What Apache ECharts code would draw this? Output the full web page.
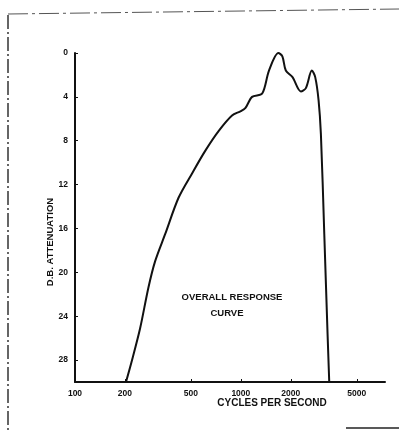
<!DOCTYPE html>
<html>
<head>
<meta charset="utf-8">
<script src="https://cdn.jsdelivr.net/npm/echarts@6/dist/echarts.min.js"></script>
<style>
    html, body { margin: 0; padding: 0; background: #fff; }
    #chart { width: 399px; height: 430px; }
</style>
</head>
<body>
<div id="chart"></div>
<script>
// response curve (frequency in c/s, attenuation in dB)
const freq = [203, 219, 247, 277, 304, 350, 421, 507, 611, 736, 885, 1000, 1067, 1169, 1345, 1478, 1683, 1780, 1867, 2049, 2300, 2467, 2680, 2808, 2942, 3039, 3185, 3335, 3412]
const attenuation = [30, 28.2, 25.1, 21.4, 19.0, 16.5, 13.2, 11.0, 8.9, 7.1, 5.7, 5.3, 5.0, 4.0, 3.7, 1.6, 0.0, 0.3, 1.6, 2.2, 3.5, 3.2, 1.6, 2.2, 4.3, 7.4, 16.5, 25.7, 30]
const xTicks = [100, 200, 500, 1000, 2000, 5000]
const yTicks = [0, 4, 8, 12, 16, 20, 24, 28]

const ink = '#111'
const labelFont = { color: ink, fontFamily: 'Liberation Sans', fontWeight: 'bold', fontSize: 8.5 }

const chart = echarts.init(document.getElementById('chart'))
chart.setOption({
    backgroundColor: '#fff',
    animation: false,
    grid: { left: 75, right: 14, top: 53, bottom: 48 },
    xAxis: {
        type: 'log',
        position: 'bottom',
        min: 100,
        max: 7400,
        axisLine: { onZero: false, lineStyle: { color: ink, width: 2 } },
        axisTick: { inside: true, length: 3, customValues: xTicks, lineStyle: { color: ink } },
        axisLabel: Object.assign({ margin: 7, customValues: xTicks, formatter: v => String(v) }, labelFont),
        splitLine: { show: false },
        minorTick: { show: false },
    },
    yAxis: {
        type: 'value',
        inverse: true,
        min: 0,
        max: 30,
        axisLine: { show: true, onZero: false, lineStyle: { color: ink, width: 2 } },
        axisTick: { show: true, inside: true, length: 3, customValues: yTicks, lineStyle: { color: ink } },
        axisLabel: Object.assign({ margin: 7, customValues: yTicks }, labelFont),
        splitLine: { show: false },
    },
    series: [
        {
            type: 'line',
            data: freq.map((f, i) => [f, attenuation[i]]),
            smooth: 0.3,
            showSymbol: false,
            lineStyle: { color: ink, width: 2 },
        },
    ],
    graphic: [
        // remains of the scanned frame
        { type: 'line', shape: { x1: 8, y1: 15, x2: 8, y2: 430 }, style: { stroke: '#333', lineWidth: 1.5, lineDash: [14, 3, 2, 3] } },
        { type: 'line', shape: { x1: 8, y1: 14, x2: 399, y2: 9 }, style: { stroke: '#555', lineWidth: 1, lineDash: [20, 4, 3, 4] } },
        { type: 'line', shape: { x1: 346, y1: 428, x2: 399, y2: 428 }, style: { stroke: '#222', lineWidth: 1.5 } },
        {
            type: 'text', x: 50, y: 242, rotation: Math.PI / 2,
            style: { text: 'D.B. ATTENUATION', fill: ink, font: 'bold 9.5px "Liberation Sans"', align: 'center', verticalAlign: 'middle' },
        },
        {
            type: 'text', x: 272, y: 403,
            style: { text: 'CYCLES PER SECOND', fill: ink, font: 'bold 10px "Liberation Sans"', align: 'center', verticalAlign: 'middle' },
        },
        {
            type: 'text', x: 232, y: 297,
            style: { text: 'OVERALL RESPONSE', fill: ink, font: 'bold 9.5px "Liberation Sans"', align: 'center', verticalAlign: 'middle' },
        },
        {
            type: 'text', x: 227, y: 313,
            style: { text: 'CURVE', fill: ink, font: 'bold 9.5px "Liberation Sans"', align: 'center', verticalAlign: 'middle' },
        },
    ],
})
</script>
</body>
</html>
